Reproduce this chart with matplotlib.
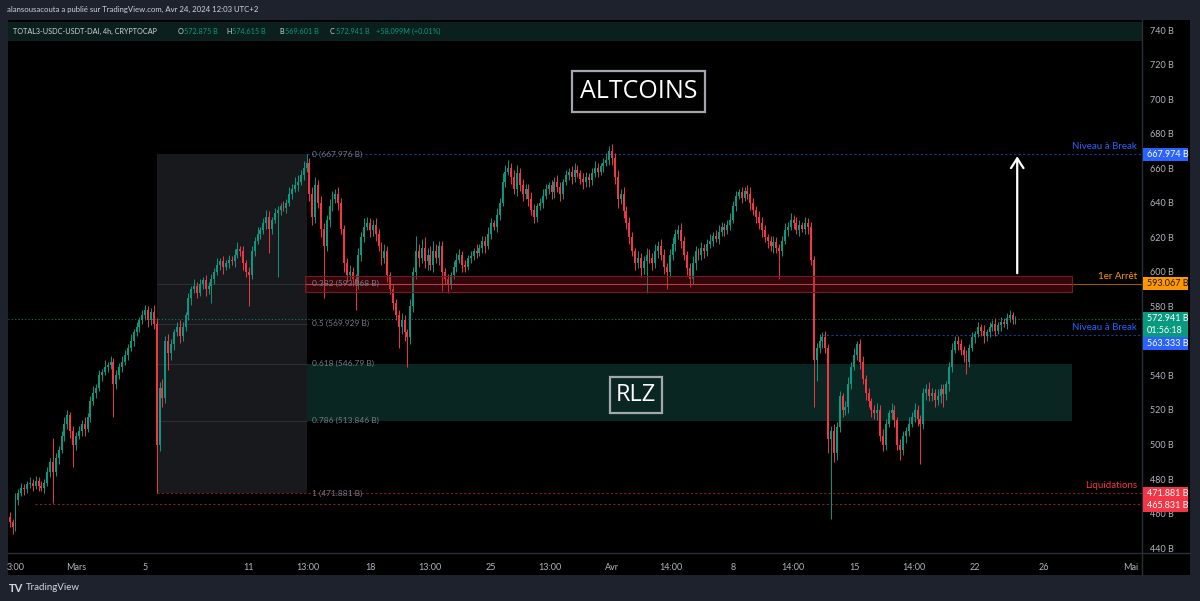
import matplotlib
matplotlib.use("Agg")
import matplotlib.pyplot as plt
from matplotlib.patches import Rectangle
from matplotlib.lines import Line2D
from matplotlib import transforms
import numpy as np

# ------------------------------------------------------------------ data
start_day = -23 / 6          # first candle: Feb 26 04:00 (days relative to Mar 1 00:00)
candle_days = 1 / 6          # 4h candles
first_open = 458

closes = [
    455, 452, 468, 472, 475, 474, 477, 478, 476, 479,
    476, 475, 478, 484, 490, 484, 492, 497, 505, 512,
    517, 508, 500, 505, 508, 512, 509, 516, 525, 530,
    533, 540, 542, 545, 546, 548, 535, 540, 545, 548,
    552, 556, 560, 565, 568, 572, 575, 578, 572, 577,
    570, 500, 533, 527, 560, 553, 558, 565, 568, 563,
    568, 575, 585, 590, 592, 588, 593, 595, 590, 592,
    596, 600, 604, 606, 603, 605, 607, 606, 610, 613,
    612, 605, 600, 598, 612, 618, 622, 624, 628, 632,
    625, 630, 634, 636, 638, 637, 640, 645, 648, 650,
    652, 656, 660, 663, 645, 632, 650, 640, 625, 615,
    630, 638, 642, 645, 640, 625, 605, 598, 600, 596,
    593, 610, 620, 626, 628, 624, 627, 622, 615, 608,
    612, 598, 590, 582, 575, 568, 572, 565, 562, 580,
    600, 612, 608, 614, 606, 610, 604, 612, 608, 615,
    600, 596, 593, 598, 603, 607, 610, 604, 603, 608,
    609, 612, 611, 614, 618, 615, 622, 628, 626, 633,
    640, 652, 658, 660, 655, 648, 657, 650, 645, 648,
    642, 636, 632, 638, 640, 644, 648, 650, 646, 652,
    649, 645, 652, 656, 658, 655, 659, 657, 654, 652,
    655, 653, 657, 660, 658, 661, 663, 665, 670, 666,
    655, 642, 645, 635, 628, 620, 612, 605, 608, 602,
    606, 610, 608, 605, 612, 615, 610, 603, 600, 610,
    616, 622, 624, 618, 610, 602, 596, 605, 612, 610,
    614, 612, 616, 618, 621, 619, 623, 626, 624, 627,
    630, 638, 644, 646, 643, 647, 645, 640, 636, 632,
    628, 624, 620, 618, 615, 617, 614, 612, 618, 624,
    626, 630, 628, 624, 627, 625, 628, 626, 607, 549,
    556, 560, 562, 556, 503, 508, 495, 510, 528, 520,
    522, 535, 545, 552, 558, 548, 538, 530, 525, 520,
    518, 520, 505, 500, 512, 518, 520, 514, 500, 497,
    505, 508, 512, 516, 520, 515, 512, 530, 532, 528,
    530, 526, 528, 532, 529, 535, 545, 555, 560, 558,
    555, 552, 548, 556, 562, 564, 568, 566, 563, 565,
    568, 570, 566, 569, 571, 570, 573, 575, 572.875, 572.941,
]

hi_wick = [
    3, 2, 4, 2, 3, 2, 2, 3, 2, 3,
    2, 3, 2, 3, 2, 14, 3, 2, 3, 4,
    3, 2, 3, 2, 3, 2, 4, 2, 3, 4,
    2, 3, 2, 4, 2, 3, 2, 3, 2, 3,
    3, 2, 4, 2, 3, 2, 3, 3, 2, 2,
    4, 3, 3, 5, 3, 4, 3, 2, 3, 4,
    3, 2, 3, 2, 4, 2, 3, 2, 3, 2,
    3, 2, 4, 2, 3, 2, 3, 2, 3, 4,
    2, 3, 2, 3, 3, 2, 4, 2, 3, 4,
    3, 2, 3, 2, 2, 3, 2, 4, 3, 5,
    4, 3, 4, 5, 3, 4, 5, 3, 4, 3,
    3, 4, 5, 3, 4, 3, 2, 3, 4, 3,
    3, 4, 3, 5, 4, 3, 3, 4, 3, 2,
    4, 3, 2, 3, 2, 3, 4, 3, 2, 4,
    3, 9, 4, 5, 6, 4, 5, 6, 4, 3,
    3, 2, 3, 2, 3, 4, 3, 2, 3, 2,
    3, 2, 4, 2, 3, 3, 4, 3, 2, 4,
    3, 5, 4, 5, 3, 4, 5, 3, 4, 3,
    3, 4, 3, 2, 3, 4, 3, 2, 3, 3,
    4, 3, 2, 3, 2, 3, 4, 3, 2, 3,
    3, 2, 3, 4, 3, 2, 3, 4, 3, 4,
    3, 4, 3, 4, 3, 4, 3, 2, 4, 3,
    3, 4, 3, 3, 4, 3, 4, 3, 2, 3,
    4, 3, 3, 4, 3, 2, 3, 4, 3, 2,
    3, 2, 3, 4, 2, 3, 4, 3, 2, 3,
    4, 3, 3, 2, 3, 2, 3, 4, 3, 2,
    3, 4, 3, 2, 3, 4, 3, 2, 3, 4,
    3, 4, 3, 4, 3, 2, 4, 3, 3, 2,
    3, 4, 3, 4, 2, 3, 4, 3, 3, 2,
    3, 4, 3, 4, 2, 3, 3, 2, 3, 2,
    3, 4, 3, 4, 3, 2, 4, 3, 2, 3,
    3, 2, 4, 3, 4, 3, 2, 3, 3, 4,
    3, 2, 4, 3, 3, 2, 3, 4, 3, 3,
    3, 2, 3, 2, 3, 2, 3, 2, 3, 2,
    3, 2, 3, 2, 3, 2, 3, 3, 2, 1.674,
]

lo_wick = [
    3, 4, 2, 3, 2, 3, 2, 2, 3, 2,
    3, 2, 3, 2, 3, 18, 2, 3, 2, 3,
    3, 4, 13, 3, 2, 3, 4, 2, 3, 2,
    3, 2, 3, 2, 3, 2, 19, 3, 2, 3,
    2, 3, 2, 3, 2, 3, 2, 3, 4, 3,
    3, 28.119, 4, 5, 3, 10, 4, 3, 2, 4,
    3, 2, 3, 4, 2, 3, 2, 3, 4, 3,
    10, 3, 2, 3, 4, 2, 3, 2, 3, 2,
    3, 4, 3, 18, 2, 3, 2, 3, 2, 3,
    14, 3, 2, 37, 3, 2, 3, 2, 3, 2,
    3, 2, 3, 2, 4, 5, 4, 3, 5, 30,
    3, 4, 3, 2, 4, 3, 5, 4, 3, 4,
    15, 3, 4, 3, 2, 4, 3, 4, 3, 4,
    3, 4, 3, 4, 3, 12, 4, 5, 17, 4,
    3, 4, 5, 3, 4, 5, 3, 4, 3, 4,
    11, 3, 5, 3, 2, 3, 2, 4, 3, 2,
    3, 2, 3, 2, 3, 4, 2, 3, 2, 3,
    3, 2, 3, 2, 4, 3, 4, 3, 4, 3,
    4, 3, 4, 3, 2, 3, 2, 3, 4, 3,
    3, 4, 3, 2, 3, 4, 3, 2, 3, 4,
    3, 4, 3, 2, 3, 2, 3, 2, 3, 4,
    4, 5, 3, 4, 3, 4, 3, 4, 3, 5,
    3, 18, 3, 4, 3, 4, 3, 4, 10, 3,
    3, 4, 3, 4, 3, 4, 5, 3, 4, 3,
    3, 4, 3, 2, 3, 2, 3, 2, 3, 2,
    3, 2, 3, 2, 3, 2, 3, 4, 3, 4,
    3, 4, 3, 4, 3, 4, 3, 16, 3, 2,
    3, 2, 3, 2, 3, 2, 3, 4, 3, 27,
    12, 3, 4, 3, 8, 46, 5, 4, 3, 4,
    3, 4, 3, 2, 3, 4, 3, 4, 3, 4,
    3, 4, 3, 4, 3, 2, 3, 4, 3, 6,
    3, 4, 3, 2, 3, 4, 23, 3, 4, 3,
    3, 4, 3, 4, 7, 3, 4, 3, 2, 3,
    3, 4, 7, 3, 2, 3, 2, 3, 4, 3,
    3, 2, 3, 2, 3, 2, 3, 2, 3, 3.274,
]

# 560 B is hidden behind the price tags in the original
price_ticks = [440, 460, 480, 500, 520, 540, 580, 600, 620, 640, 660, 680, 700, 720, 740]
time_tick_days = [-3.47, 0, 4, 10, 13.42, 17, 20.47, 24, 27.42, 31, 34.41, 38, 41.47, 45, 48.47, 52, 56, 61]
time_tick_labels = ["3:00", "Mars", "5", "11", "13:00", "18", "13:00", "25", "13:00", "Avr",
                    "14:00", "8", "14:00", "15", "14:00", "22", "26", "Mai"]

fib_ratios = ["0", "0.382", "0.5", "0.618", "0.786", "1"]
fib_values = [667.976, 593.068, 569.929, 546.79, 513.846, 471.881]
fib_low_idx, fib_high_idx = 51, 103

level_break_hi = 667.974
level_arret = 593.067
level_break_lo = 563.333
liq_1 = 471.881
liq_2 = 465.831
countdown = "01:56:18"
change_text = "+58.099M (+0.01%)"
symbol_text = "TOTAL3-USDC-USDT-DAI, 4h, CRYPTOCAP"
header_text = "alansousacouta a publié sur TradingView.com, Avr 24, 2024 12:03 UTC+2"

# ------------------------------------------------------------------ style
UP, DOWN = "#089981", "#f23645"
BLUE, ORANGE = "#2962ff", "#ff9800"
AXTXT = "#b2b5be"
plt.rcParams["font.family"] = ["Lato", "DejaVu Sans"]

W, H = 1200, 601
fig = plt.figure(figsize=(W / 100, H / 100), dpi=100)
fig.patch.set_facecolor("#1e222d")


def fx(px):
    return px / W


def fy(py):
    return 1 - py / H


# black chart frame (plot + axes strips)
fig.patches.append(Rectangle((fx(8), fy(575)), (1190 - 8) / W, (575 - 20) / H,
                             transform=fig.transFigure, fc="black", ec="none", zorder=-2))

ax = fig.add_axes([fx(8), fy(553), (1142 - 8) / W, (553 - 20) / H])
ax.set_facecolor("black")
ax.set_xlim(-3.933, 61.65)
ax.set_ylim(437.2, 745.8)
for s in ax.spines.values():
    s.set_visible(False)

# ------------------------------------------------------------------ candles
c = np.array(closes, dtype=float)
o = np.r_[first_open, c[:-1]]
hi = np.maximum(o, c) + np.array(hi_wick)
lo = np.minimum(o, c) - np.array(lo_wick)
n = len(c)
xd = start_day + np.arange(n) * candle_days
cols = np.where(c >= o, UP, DOWN)

ax.vlines(xd, lo, hi, colors=cols, lw=0.7, zorder=3)
ax.bar(xd, np.maximum(np.abs(c - o), 0.5), bottom=np.minimum(o, c),
       width=candle_days * 0.68, color=cols, lw=0, zorder=4)

# ------------------------------------------------------------------ fib tool
x_lo, x_hi = xd[fib_low_idx], xd[fib_high_idx]
fib_right = 57.6
ax.add_patch(Rectangle((x_lo, fib_values[-1]), x_hi - x_lo, fib_values[0] - fib_values[-1],
                       fc="#18191c", ec="none", zorder=1))
for v in fib_values[1:5]:
    ax.hlines(v, x_lo, x_hi, color="#2c2e33", lw=0.8, zorder=1.5)

# golden zone (0.618 - 0.786)
ax.add_patch(Rectangle((x_hi, fib_values[4]), fib_right - x_hi, fib_values[3] - fib_values[4],
                       fc="#0a2622", ec="none", zorder=1))
# 0.382 red band
ax.add_patch(Rectangle((x_hi - 0.1, fib_values[1] - 4.6), fib_right - x_hi + 0.1, 9.2,
                       fc=(0.6, 0.08, 0.1, 0.35), ec="#6e1d22", lw=0.8, zorder=5))
ax.hlines(fib_values[1], x_hi - 0.1, fib_right, color="#a8454a", lw=0.8, zorder=5.5)

lab_tr = transforms.offset_copy(ax.transData, fig=fig, x=5, y=0, units="dots")
for r, v in zip(fib_ratios, fib_values):
    ax.text(x_hi, v, f"{r} ({v:g} B)", transform=lab_tr, color="#787b86",
            fontsize=6, va="center", ha="left", zorder=6)

# horizontal levels
right = ax.get_xlim()[1]
ax.hlines(level_break_hi, x_hi, right, color=BLUE, lw=0.8, alpha=0.6, linestyles=(0, (2, 2)), zorder=2)
ax.hlines(level_arret, fib_right, right, color=ORANGE, lw=0.8, alpha=0.6, zorder=2)
ax.hlines(level_break_lo, 43.15, right, color=BLUE, lw=0.8, alpha=0.6, linestyles=(0, (2, 2)), zorder=2)
ax.hlines(liq_1, x_lo, right, color=DOWN, lw=0.8, alpha=0.55, linestyles=(0, (2, 2)), zorder=2)
ax.hlines(liq_2, -2.37, right, color=DOWN, lw=0.8, alpha=0.55, linestyles=(0, (2, 2)), zorder=2)
ax.hlines(c[-1], ax.get_xlim()[0], right, color=UP, lw=0.8, alpha=0.8, linestyles=(0, (1, 2)), zorder=2)

# level names (right side, above the line)
name_tr = transforms.offset_copy(transforms.blended_transform_factory(ax.transAxes, ax.transData),
                                 fig=fig, x=0, y=3, units="dots")
for txt, v, col in [("Niveau à Break", level_break_hi, BLUE), ("1er Arrêt", level_arret, ORANGE),
                    ("Niveau à Break", level_break_lo, BLUE), ("Liquidations", liq_1, DOWN)]:
    ax.text(0.9956, v, txt, transform=name_tr, color=col, fontsize=7, ha="right", va="bottom", zorder=6)

# white arrow
ax.annotate("", xy=(xd[-1] + 0.1, level_break_hi + 0.5), xytext=(xd[-1] + 0.1, level_arret + 4.5),
            arrowprops=dict(arrowstyle="->,head_length=0.7,head_width=0.45", color="white", lw=1.6),
            zorder=7)

# ------------------------------------------------------------------ axes ticks
ax.yaxis.tick_right()
ax.set_yticks(price_ticks)
ax.set_yticklabels([f"{v} B" for v in price_ticks])
ax.tick_params(axis="y", length=0, pad=6, labelsize=6.5, labelcolor=AXTXT)
ax.set_xticks(time_tick_days)
ax.set_xticklabels(time_tick_labels)
ax.tick_params(axis="x", length=0, pad=7, labelsize=6.5, labelcolor=AXTXT)

fig.add_artist(Line2D([fx(8), fx(1190)], [fy(553), fy(553)], color="#2a2e39", lw=1, transform=fig.transFigure))
fig.add_artist(Line2D([fx(1142), fx(1142)], [fy(20), fy(575)], color="#2a2e39", lw=1, transform=fig.transFigure))

# ------------------------------------------------------------------ legend strip
fig.patches.append(Rectangle((fx(8), fy(41)), (1142 - 8) / W, 19 / H, transform=fig.transFigure,
                             fc="#0b201c", ec="none", zorder=1))
LFS = 5.2
fig.text(fx(13), fy(31), symbol_text, color="#d1d4dc", fontsize=LFS, va="center", zorder=2)
ohlc = [("O", o[-1], 178), ("H", hi[-1], 226), ("B", lo[-1], 279), ("C", c[-1], 330)]
for k, v, px in ohlc:
    fig.text(fx(px), fy(31), k, color="#d1d4dc", fontsize=LFS, va="center", zorder=2)
    fig.text(fx(px + 6), fy(31), f"{v:.3f} B", color=UP, fontsize=LFS, va="center", zorder=2)
fig.text(fx(376), fy(31), change_text, color=UP, fontsize=LFS, va="center", zorder=2)

fig.text(fx(7), fy(9), header_text, color="#d1d4dc", fontsize=5.6, va="center")
fig.text(fx(9), fy(588), "TV", color="#d1d4dc", fontsize=8, fontweight="bold", va="center")
fig.text(fx(26), fy(588), "TradingView", color="#d1d4dc", fontsize=7, va="center")

# ------------------------------------------------------------------ boxed titles
fig.text(fx(638.5), fy(91), "ALTCOINS", color="white", fontsize=18, ha="center", va="center",
         family=["Open Sans", "DejaVu Sans"], zorder=8,
         bbox=dict(boxstyle="square,pad=0.32", fc="black", ec="#a3a6ad", lw=1.6))
fig.text(fx(636), fy(395), "RLZ", color="white", fontsize=17, ha="center", va="center",
         family=["Open Sans", "DejaVu Sans"], zorder=8,
         bbox=dict(boxstyle="square,pad=0.26", fc="#0a2622", ec="#a3a6ad", lw=1.6))

# ------------------------------------------------------------------ price tags
def ypx(price):
    return H - ax.transData.transform((0, price))[1]


def tag(top, lines, color, tcolor="white", lh=12):
    h = lh * len(lines) + 1
    fig.patches.append(Rectangle((fx(1143), fy(top + h)), 45 / W, h / H, transform=fig.transFigure,
                                 fc=color, ec="none", zorder=5))
    for k, s in enumerate(lines):
        fig.text(fx(1147), fy(top + lh / 2 + 0.5 + lh * k), s, color=tcolor, fontsize=6.5,
                 va="center", ha="left", zorder=6)
    return top + h


tag(ypx(level_break_hi) - 6.5, [f"{level_break_hi:.3f} B"], BLUE)
tag(ypx(level_arret) - 6.5, [f"{level_arret:.3f} B"], ORANGE, tcolor="#1a1a1a")
g_bottom = tag(ypx(c[-1]) - 6.5, [f"{c[-1]:.3f} B", countdown], UP)
tag(g_bottom, [f"{level_break_lo:.3f} B"], BLUE)
tag(ypx(liq_1) - 6.5, [f"{liq_1:.3f} B", f"{liq_2:.3f} B"], DOWN)

fig.savefig("out.png", dpi=100, facecolor=fig.get_facecolor())
